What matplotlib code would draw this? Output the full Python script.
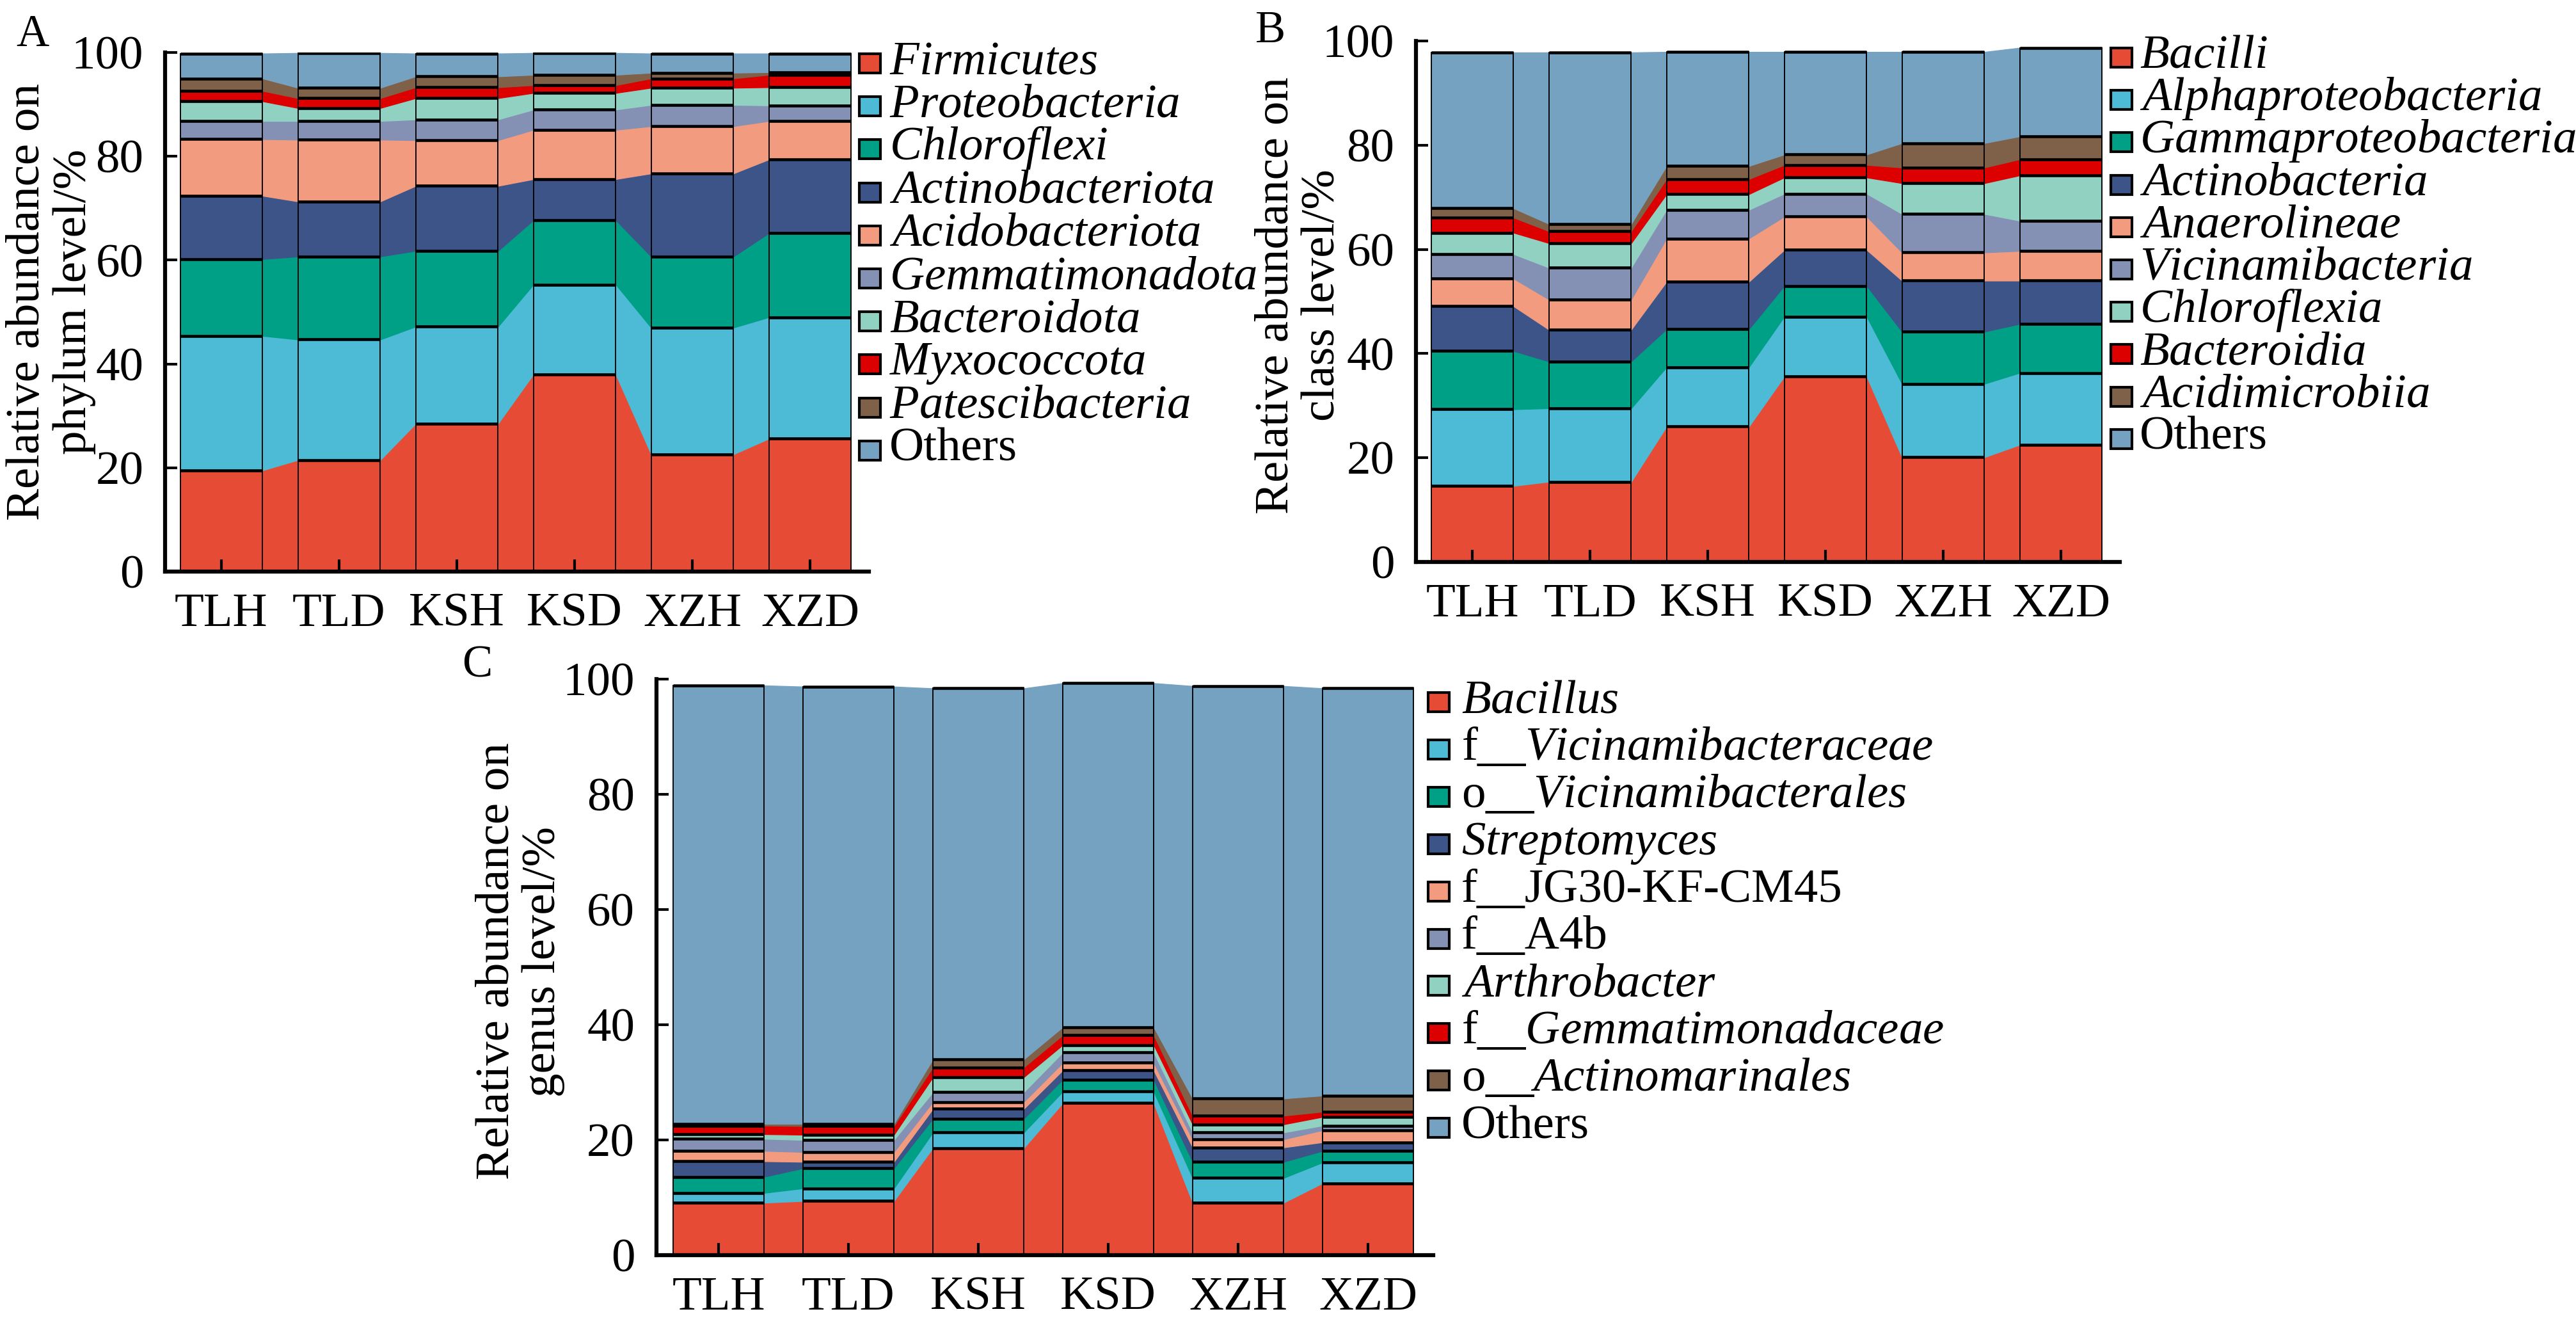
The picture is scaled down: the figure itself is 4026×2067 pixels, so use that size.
import numpy as np
import matplotlib
matplotlib.use("Agg")
import matplotlib.pyplot as plt
from matplotlib.patches import Rectangle

plt.rcParams['font.family'] = ['Liberation Serif', 'DejaVu Serif']
plt.rcParams['mathtext.fontset'] = 'custom'
plt.rcParams['mathtext.rm'] = 'Liberation Serif'
plt.rcParams['mathtext.it'] = 'Liberation Serif:italic'

# ---------------- data (relative abundance, %) ----------------
samples = ['TLH', 'TLD', 'KSH', 'KSD', 'XZH', 'XZD']

phylum_names = [r'$\mathit{Firmicutes}$', r'$\mathit{Proteobacteria}$', r'$\mathit{Chloroflexi}$',
                r'$\mathit{Actinobacteriota}$', r'$\mathit{Acidobacteriota}$', r'$\mathit{Gemmatimonadota}$',
                r'$\mathit{Bacteroidota}$', r'$\mathit{Myxococcota}$', r'$\mathit{Patescibacteria}$', 'Others']
phylum_values = [
    [19.5, 21.5, 28.5, 38.0, 22.6, 25.6],
    [25.9, 23.2, 18.7, 17.3, 24.4, 23.4],
    [14.8, 16.0, 14.6, 12.4, 13.7, 16.2],
    [12.2, 10.6, 12.5, 7.9, 16.0, 14.2],
    [10.9, 11.9, 8.8, 9.5, 9.1, 7.4],
    [3.5, 3.6, 4.0, 3.9, 4.1, 3.0],
    [3.8, 2.5, 4.1, 3.2, 3.3, 3.5],
    [2.0, 1.9, 2.1, 1.5, 1.8, 2.4],
    [2.4, 2.0, 2.1, 2.0, 1.1, 0.5],
    [4.8, 6.7, 4.4, 4.2, 3.7, 3.6],
]

class_names = [r'$\mathit{Bacilli}$', r'$\mathit{Alphaproteobacteria}$', r'$\mathit{Gammaproteobacteria}$',
               r'$\mathit{Actinobacteria}$', r'$\mathit{Anaerolineae}$', r'$\mathit{Vicinamibacteria}$',
               r'$\mathit{Chloroflexia}$', r'$\mathit{Bacteroidia}$', r'$\mathit{Acidimicrobiia}$', 'Others']
class_values = [
    [14.6, 15.4, 26.0, 35.6, 20.1, 22.5],
    [14.7, 14.1, 11.4, 11.5, 14.1, 13.8],
    [11.2, 9.0, 7.3, 5.9, 10.0, 9.4],
    [8.6, 6.1, 9.1, 6.9, 9.8, 8.3],
    [5.3, 5.8, 8.3, 6.4, 5.4, 5.7],
    [4.7, 6.1, 5.5, 4.4, 7.4, 5.8],
    [4.1, 4.7, 3.0, 3.1, 5.9, 8.7],
    [2.9, 2.3, 2.9, 2.4, 3.0, 3.1],
    [1.8, 1.4, 2.5, 2.0, 4.7, 4.4],
    [29.9, 32.9, 21.9, 19.7, 17.5, 17.0],
]

genus_names = [r'$\mathit{Bacillus}$', r'f__$\mathit{Vicinamibacteraceae}$', r'o__$\mathit{Vicinamibacterales}$',
               r'$\mathit{Streptomyces}$', 'f__JG30-KF-CM45', 'f__A4b', r'$\mathit{Arthrobacter}$',
               r'f__$\mathit{Gemmatimonadaceae}$', r'o__$\mathit{Actinomarinales}$', 'Others']
genus_values = [
    [9.1, 9.4, 18.6, 26.4, 9.1, 12.5],
    [1.7, 2.2, 2.7, 2.0, 4.3, 3.6],
    [2.8, 3.5, 2.4, 2.1, 2.8, 2.0],
    [2.7, 1.1, 1.7, 1.6, 2.5, 1.5],
    [1.8, 1.7, 1.2, 1.3, 1.4, 2.1],
    [2.1, 2.1, 1.7, 1.8, 1.2, 0.8],
    [0.8, 0.9, 2.6, 1.3, 1.4, 1.5],
    [1.5, 1.5, 1.7, 1.7, 1.5, 0.9],
    [0.3, 0.4, 1.4, 1.4, 3.0, 2.8],
    [76.1, 75.9, 64.4, 59.7, 71.6, 70.7],
]

colors = ['#E64B35', '#4DBBD5', '#00A087', '#3C5488', '#F39B7F',
          '#8491B4', '#91D1C2', '#DC0000', '#7E6148', '#76A2C2']

# ---------------- layout (pixels of the 4026 x 2067 canvas) ----------------
W, H = 4026, 2067
FS = 18
BAR_W = 0.7
XLIM = (-0.48, 5.5)

fig = plt.figure(figsize=(W / 300, H / 300), dpi=300)


def make_axes(center0, period, y100, y0):
    left = center0 + XLIM[0] * period
    right = center0 + XLIM[1] * period
    return fig.add_axes([left / W, 1 - y0 / H, (right - left) / W, (y0 - y100) / H])


def draw_stack(ax, values):
    x = np.arange(len(samples))
    bottoms = np.zeros(len(samples))
    for vals, col in zip(values, colors):
        vals = np.asarray(vals)
        tops = bottoms + vals
        ax.bar(x, vals, BAR_W, bottom=bottoms, color=col, edgecolor='black',
               linewidth=0.45, zorder=2)
        # ribbons joining the same taxon in neighbouring bars
        for i in range(len(x) - 1):
            ax.fill_between([x[i] + BAR_W / 2, x[i + 1] - BAR_W / 2],
                            [bottoms[i], bottoms[i + 1]], [tops[i], tops[i + 1]],
                            facecolor=col, edgecolor=col, linewidth=0.3, zorder=1)
        ax.hlines(tops, x - BAR_W / 2, x + BAR_W / 2, color='black', lw=1.1, zorder=3)
        bottoms = tops

    ax.set_xlim(*XLIM)
    ax.set_ylim(0, 100)
    ax.set_xticks(x)
    ax.set_xticklabels(samples)
    ax.set_yticks(np.arange(0, 101, 20))
    ax.set_axisbelow(False)
    for s in ['top', 'right']:
        ax.spines[s].set_visible(False)
    for s in ['left', 'bottom']:
        ax.spines[s].set_linewidth(1.5)
    ax.tick_params(direction='in', length=4.5, width=1.0, labelsize=FS, pad=8)


def draw_legend(labels, x_patch, x_text, y_first, pitch):
    for i, (lab, col) in enumerate(zip(labels, colors)):
        yc = y_first + i * pitch
        fig.patches.append(Rectangle((x_patch / W, 1 - (yc + 15) / H), 33 / W, 30 / H,
                                     transform=fig.transFigure, facecolor=col,
                                     edgecolor='black', linewidth=1.0))
        fig.text(x_text / W, 1 - (yc + 16) / H, lab, ha='left', va='baseline', fontsize=FS)


# A: phylum
axA = make_axes(346, 184, 82, 893)
draw_stack(axA, phylum_values)
axA.text(-0.162, 0.52, 'Relative abundance on\nphylum level/%', rotation=90,
         ha='center', va='center', fontsize=FS, linespacing=1.1, transform=axA.transAxes)
draw_legend(phylum_names, 1343, 1390, 99, 67.2)
fig.text(25 / W, 1 - 22 / H, 'A', ha='left', va='top', fontsize=17)

# B: class
axB = make_axes(2301, 184, 64, 878)
draw_stack(axB, class_values)
axB.text(-0.165, 0.512, 'Relative abundance on\nclass level/%', rotation=90,
         ha='center', va='center', fontsize=FS, linespacing=1.1, transform=axB.transAxes)
draw_legend(class_names, 3299, 3344, 90, 66.2)
fig.text(1962 / W, 1 - 16 / H, 'B', ha='left', va='top', fontsize=17)

# C: genus
axC = make_axes(1123, 203, 1061, 1961)
draw_stack(axC, genus_values)
axC.text(-0.175, 0.51, 'Relative abundance on\ngenus level/%', rotation=90,
         ha='center', va='center', fontsize=FS, linespacing=1.1, transform=axC.transAxes)
draw_legend(genus_names, 2232, 2284, 1097, 73.9)
fig.text(722 / W, 1 - 1008 / H, 'C', ha='left', va='top', fontsize=17)

fig.savefig('out.png', dpi=300)
